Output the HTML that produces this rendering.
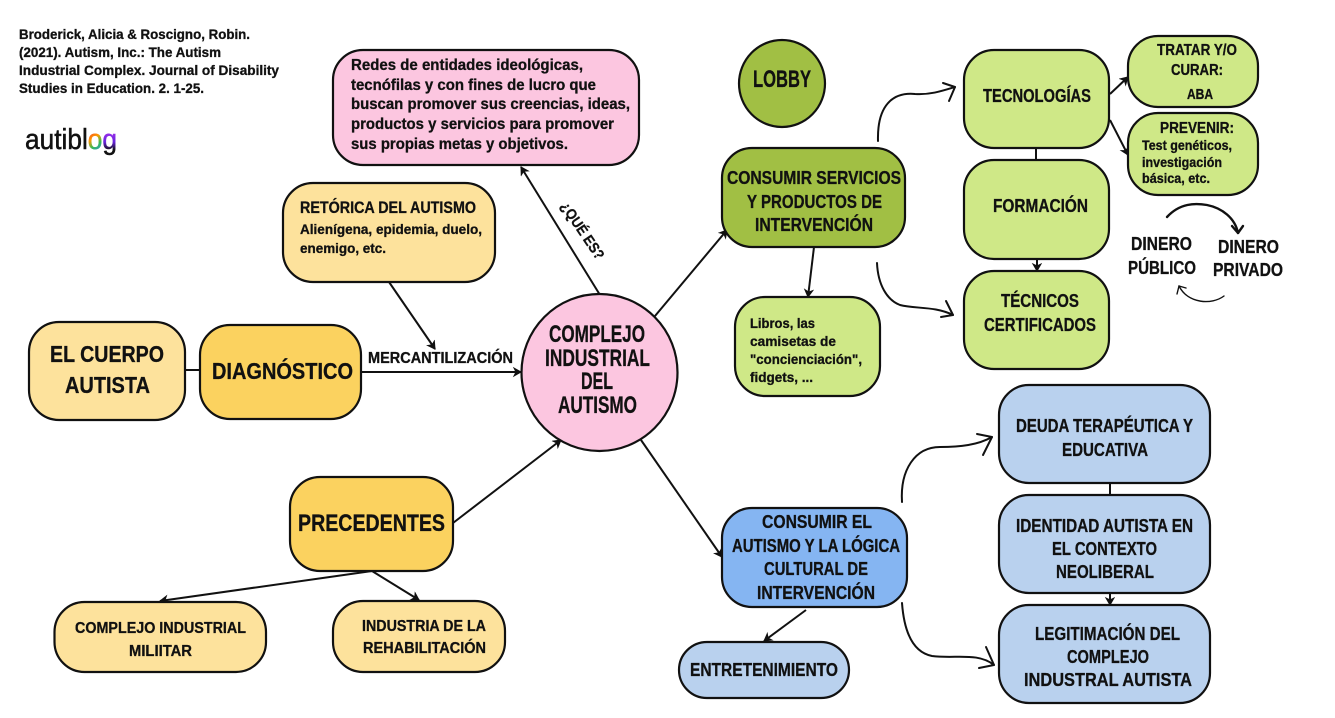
<!DOCTYPE html>
<html lang="es">
<head>
<meta charset="utf-8">
<title>Complejo Industrial del Autismo</title>
<style>
html,body{margin:0;padding:0;background:#fff;width:1335px;height:718px;overflow:hidden}
svg{display:block}
text{font-family:"Liberation Sans",sans-serif;font-weight:bold;fill:#111;stroke:#111;stroke-width:.3}
.b{stroke:#111;stroke-width:2.2}
.l{fill:none;stroke:#111;stroke-width:2}
.h{fill:none;stroke:#111;stroke-width:2;stroke-linecap:round;stroke-linejoin:round}
</style>
</head>
<body>
<svg width="1335" height="718" viewBox="0 0 1335 718" xmlns="http://www.w3.org/2000/svg">
<defs>
<marker id="a" markerUnits="userSpaceOnUse" markerWidth="12" markerHeight="12" refX="9" refY="5" orient="auto">
<path d="M2,1 L9,5 L2,9 L4,5 Z" fill="#111" stroke="#111" stroke-width="1"/>
</marker>
<linearGradient id="rb" gradientUnits="userSpaceOnUse" x1="90" y1="130" x2="104" y2="150">
<stop offset="0" stop-color="#e33"/><stop offset=".35" stop-color="#f90"/><stop offset=".65" stop-color="#3b5"/><stop offset="1" stop-color="#38e"/>
</linearGradient>
<linearGradient id="rg" gradientUnits="userSpaceOnUse" x1="104" y1="130" x2="104" y2="150">
<stop offset="0" stop-color="#a3e"/><stop offset=".6" stop-color="#62d"/><stop offset="1" stop-color="#111"/>
</linearGradient>
</defs>

<!-- connectors -->
<g class="l">
<path d="M600,295 L521,167" marker-end="url(#a)"/>
<path d="M389,282 L435,349" marker-end="url(#a)"/>
<path d="M185,370 H200"/>
<path d="M361,372 H521" marker-end="url(#a)"/>
<path d="M453,523 L561,440" marker-end="url(#a)"/>
<path d="M372,571 L160,601" marker-end="url(#a)"/>
<path d="M372,571 L419,600" marker-end="url(#a)"/>
<path d="M655,316 L727,230" marker-end="url(#a)"/>
<path d="M641,440 L722,557" marker-end="url(#a)"/>
<path d="M814,247 L808,297" marker-end="url(#a)"/>
<path d="M806,610 L764,641" marker-end="url(#a)"/>
<path d="M1036,148 V160"/>
<path d="M1037,259 V271" marker-end="url(#a)"/>
<path d="M1110,94 L1128,77" marker-end="url(#a)"/>
<path d="M1110,120 L1128,155" marker-end="url(#a)"/>
<path d="M1110,483 V495"/>
<path d="M1110,593 V605" marker-end="url(#a)"/>
</g>

<!-- hand drawn arrows -->
<g class="h">
<path d="M878,141 C877,105 893,92 915,94 C930,95 942,91 955,87"/>
<path d="M943,83 L955,87 L949,101"/>
<path d="M877,263 C878,285 887,300 900,305 C915,309 935,306 953,315"/>
<path d="M946,301 L953,315 L941,317"/>
<path d="M902,502 C900,470 915,447 940,447 C960,447 978,445 992,437"/>
<path d="M977,434 L992,437 L983,455"/>
<path d="M902,603 C904,630 912,652 932,656 C955,659 978,652 994,665"/>
<path d="M986,647 L994,665 L979,668"/>
<path d="M1167,217 C1180,203 1195,203 1207,205 C1222,208 1235,218 1238,233" stroke-width="2.4"/>
<path d="M1232,226 L1238,233 L1243,226" stroke-width="2.4"/>
<path d="M1224,296 C1212,305 1188,304 1179,286" stroke-width="1.4"/>
<path d="M1179,286 L1177,294 M1179,286 L1186,288" stroke-width="1.4"/>
</g>

<!-- nodes -->
<rect class="b" x="333" y="50" width="306" height="115" rx="30" fill="#fcc6e0"/>
<rect class="b" x="283" y="183" width="212" height="99" rx="30" fill="#fde29c"/>
<rect class="b" x="29" y="322" width="156" height="98" rx="30" fill="#fde29c"/>
<rect class="b" x="200" y="325" width="161" height="94" rx="30" fill="#fbd25f"/>
<ellipse class="b" cx="599.5" cy="372.5" rx="78" ry="78.5" fill="#fcc6e0"/>
<rect class="b" x="290" y="477" width="163" height="94" rx="30" fill="#fbd25f"/>
<rect class="b" x="54.500" y="602" width="211.500" height="70" rx="30" fill="#fde29c"/>
<rect class="b" x="333" y="601" width="172" height="71" rx="30" fill="#fde29c"/>
<ellipse class="b" cx="782" cy="83.500" rx="43" ry="43.500" fill="#a1bf44"/>
<rect class="b" x="722" y="148" width="183" height="99" rx="30" fill="#a1bf44"/>
<rect class="b" x="735" y="297" width="145" height="99" rx="30" fill="#cfe887"/>
<rect class="b" x="964" y="50" width="145" height="98" rx="30" fill="#cfe887"/>
<rect class="b" x="964" y="160" width="145" height="99" rx="30" fill="#cfe887"/>
<rect class="b" x="964" y="271" width="145" height="98" rx="30" fill="#cfe887"/>
<rect class="b" x="1128" y="36" width="130" height="71" rx="30" fill="#cfe887"/>
<rect class="b" x="1128" y="113" width="130" height="82" rx="30" fill="#cfe887"/>
<rect class="b" x="999" y="385" width="211" height="98" rx="30" fill="#b9d1ee"/>
<rect class="b" x="999" y="495" width="211" height="98" rx="30" fill="#b9d1ee"/>
<rect class="b" x="999" y="605" width="211" height="98" rx="30" fill="#b9d1ee"/>
<rect class="b" x="722" y="508" width="185" height="99" rx="30" fill="#85b5f2"/>
<rect class="b" x="679" y="642" width="170" height="56" rx="28" fill="#b9d1ee"/>

<!-- citation -->
<g font-size="13.500">
<text x="19" y="39" textLength="231" lengthAdjust="spacingAndGlyphs">Broderick, Alicia &amp; Roscigno, Robin.</text>
<text x="19" y="57" textLength="202" lengthAdjust="spacingAndGlyphs">(2021). Autism, Inc.: The Autism</text>
<text x="19" y="75" textLength="260" lengthAdjust="spacingAndGlyphs">Industrial Complex. Journal of Disability</text>
<text x="19" y="93" textLength="185" lengthAdjust="spacingAndGlyphs">Studies in Education. 2. 1-25.</text>
</g>

<!-- logo -->
<text x="25" y="149" font-size="29" textLength="92" lengthAdjust="spacingAndGlyphs" style="font-weight:normal;stroke-width:.5">autibl<tspan style="fill:url(#rb);stroke:url(#rb)">o</tspan><tspan style="fill:url(#rg);stroke:url(#rg)">g</tspan></text>

<!-- pink text -->
<g font-size="15.500">
<text x="351" y="70" textLength="232" lengthAdjust="spacingAndGlyphs">Redes de entidades ideológicas,</text>
<text x="351" y="90" textLength="245" lengthAdjust="spacingAndGlyphs">tecnófilas y con fines de lucro que</text>
<text x="351" y="109" textLength="279" lengthAdjust="spacingAndGlyphs">buscan promover sus creencias, ideas,</text>
<text x="351" y="129" textLength="263" lengthAdjust="spacingAndGlyphs">productos y servicios para promover</text>
<text x="351" y="149" textLength="217" lengthAdjust="spacingAndGlyphs">sus propias metas y objetivos.</text>
</g>

<text x="300" y="213" font-size="16.500" textLength="176" lengthAdjust="spacingAndGlyphs">RETÓRICA DEL AUTISMO</text>
<text x="300" y="234" font-size="14" textLength="182" lengthAdjust="spacingAndGlyphs">Alienígena, epidemia, duelo,</text>
<text x="300" y="253" font-size="14" textLength="86" lengthAdjust="spacingAndGlyphs">enemigo, etc.</text>

<text transform="translate(560,206) rotate(56)" font-size="14.500" textLength="66" lengthAdjust="spacingAndGlyphs">¿QUÉ ES?</text>

<text x="368" y="363" font-size="15.500" textLength="145" lengthAdjust="spacingAndGlyphs">MERCANTILIZACIÓN</text>

<g font-size="23.500" style="stroke-width:.5">
<text x="50" y="362" textLength="114" lengthAdjust="spacingAndGlyphs">EL CUERPO</text>
<text x="65" y="393" textLength="85" lengthAdjust="spacingAndGlyphs">AUTISTA</text>
<text x="212" y="379" textLength="141" lengthAdjust="spacingAndGlyphs">DIAGNÓSTICO</text>
</g>

<g font-size="24" style="stroke-width:.6">
<text x="549" y="342" textLength="96" lengthAdjust="spacingAndGlyphs">COMPLEJO</text>
<text x="545" y="366" textLength="105" lengthAdjust="spacingAndGlyphs">INDUSTRIAL</text>
<text x="581" y="389" textLength="32" lengthAdjust="spacingAndGlyphs">DEL</text>
<text x="558" y="413" textLength="79" lengthAdjust="spacingAndGlyphs">AUTISMO</text>
<text x="298" y="531" textLength="147" lengthAdjust="spacingAndGlyphs">PRECEDENTES</text>
<text x="753" y="87" textLength="58" lengthAdjust="spacingAndGlyphs">LOBBY</text>
</g>

<g font-size="16">
<text x="75" y="633" textLength="171" lengthAdjust="spacingAndGlyphs">COMPLEJO INDUSTRIAL</text>
<text x="129" y="656" textLength="63" lengthAdjust="spacingAndGlyphs">MILIITAR</text>
<text x="362" y="631" textLength="124" lengthAdjust="spacingAndGlyphs">INDUSTRIA DE LA</text>
<text x="363" y="653" textLength="123" lengthAdjust="spacingAndGlyphs">REHABILITACIÓN</text>
</g>

<g font-size="18">
<text x="727" y="184" textLength="174" lengthAdjust="spacingAndGlyphs">CONSUMIR SERVICIOS</text>
<text x="747" y="208" textLength="135" lengthAdjust="spacingAndGlyphs">Y PRODUCTOS DE</text>
<text x="755" y="231" textLength="118" lengthAdjust="spacingAndGlyphs">INTERVENCIÓN</text>
<text x="983" y="102" textLength="108" lengthAdjust="spacingAndGlyphs">TECNOLOGÍAS</text>
<text x="993" y="212" textLength="95" lengthAdjust="spacingAndGlyphs">FORMACIÓN</text>
<text x="1001" y="307" textLength="78" lengthAdjust="spacingAndGlyphs">TÉCNICOS</text>
<text x="984" y="331" textLength="112" lengthAdjust="spacingAndGlyphs">CERTIFICADOS</text>
<text x="1131" y="250" textLength="61" lengthAdjust="spacingAndGlyphs">DINERO</text>
<text x="1128" y="274" textLength="68" lengthAdjust="spacingAndGlyphs">PÚBLICO</text>
<text x="1218" y="253" textLength="61" lengthAdjust="spacingAndGlyphs">DINERO</text>
<text x="1213" y="276" textLength="70" lengthAdjust="spacingAndGlyphs">PRIVADO</text>
<text x="1016" y="432" textLength="177" lengthAdjust="spacingAndGlyphs">DEUDA TERAPÉUTICA Y</text>
<text x="1062" y="456" textLength="86" lengthAdjust="spacingAndGlyphs">EDUCATIVA</text>
<text x="1016" y="532" textLength="177" lengthAdjust="spacingAndGlyphs">IDENTIDAD AUTISTA EN</text>
<text x="1052" y="555" textLength="105" lengthAdjust="spacingAndGlyphs">EL CONTEXTO</text>
<text x="1056" y="578" textLength="98" lengthAdjust="spacingAndGlyphs">NEOLIBERAL</text>
<text x="1035" y="640" textLength="145" lengthAdjust="spacingAndGlyphs">LEGITIMACIÓN DEL</text>
<text x="1067" y="663" textLength="82" lengthAdjust="spacingAndGlyphs">COMPLEJO</text>
<text x="1024" y="686" textLength="168" lengthAdjust="spacingAndGlyphs">INDUSTRAL AUTISTA</text>
<text x="762" y="528" textLength="110" lengthAdjust="spacingAndGlyphs">CONSUMIR EL</text>
<text x="732" y="552" textLength="168" lengthAdjust="spacingAndGlyphs">AUTISMO Y LA LÓGICA</text>
<text x="764" y="575" textLength="104" lengthAdjust="spacingAndGlyphs">CULTURAL DE</text>
<text x="757" y="599" textLength="118" lengthAdjust="spacingAndGlyphs">INTERVENCIÓN</text>
<text x="690" y="676" textLength="148" lengthAdjust="spacingAndGlyphs">ENTRETENIMIENTO</text>
</g>

<g font-size="15.500">
<text x="1157" y="55" textLength="80" lengthAdjust="spacingAndGlyphs">TRATAR Y/O</text>
<text x="1171" y="75" textLength="52" lengthAdjust="spacingAndGlyphs">CURAR:</text>
<text x="1187" y="99" font-size="14.500" textLength="26" lengthAdjust="spacingAndGlyphs">ABA</text>
<text x="1160" y="133" textLength="74" lengthAdjust="spacingAndGlyphs">PREVENIR:</text>
</g>
<g font-size="13.500">
<text x="1142" y="150" textLength="90" lengthAdjust="spacingAndGlyphs">Test genéticos,</text>
<text x="1142" y="167" textLength="80" lengthAdjust="spacingAndGlyphs">investigación</text>
<text x="1142" y="183" textLength="68" lengthAdjust="spacingAndGlyphs">básica, etc.</text>
</g>

<g font-size="14">
<text x="750" y="328" textLength="65" lengthAdjust="spacingAndGlyphs">Libros, las</text>
<text x="750" y="346" textLength="86" lengthAdjust="spacingAndGlyphs">camisetas de</text>
<text x="750" y="364" textLength="112" lengthAdjust="spacingAndGlyphs">"concienciación",</text>
<text x="750" y="382" textLength="63" lengthAdjust="spacingAndGlyphs">fidgets, ...</text>
</g>
</svg>
</body>
</html>
